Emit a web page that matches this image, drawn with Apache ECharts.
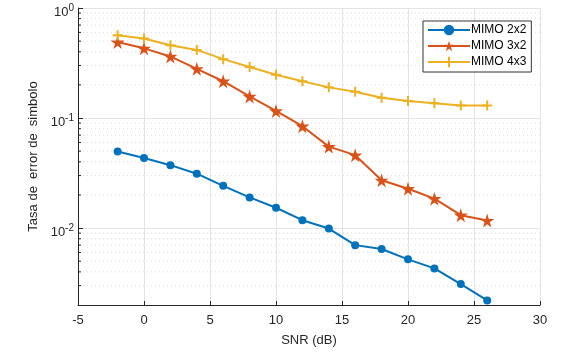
<!DOCTYPE html>
<html>
<head>
<meta charset="UTF-8">
<title>ser</title>
<script src="https://cdn.jsdelivr.net/npm/echarts@6/dist/echarts.min.js"></script>
<style>
  html, body { margin: 0; padding: 0; background: #fff; }
  #chart { width: 567px; height: 352px; }
</style>
</head>
<body>
<div id="chart"></div>
<script>
var snr = [-2, 0, 2, 4, 6, 8, 10, 12, 14, 16, 18, 20, 22, 24, 26];
var mimo22 = [0.0497, 0.0433, 0.0373, 0.0312, 0.0242, 0.019, 0.0153, 0.0118, 0.0099, 0.0070, 0.00645, 0.0052, 0.0043, 0.0031, 0.0022];
var mimo32 = [0.49, 0.43, 0.363, 0.28, 0.216, 0.157, 0.116, 0.0843, 0.055, 0.046, 0.0272, 0.0228, 0.0185, 0.0131, 0.0117];
var mimo43 = [0.566, 0.529, 0.458, 0.416, 0.343, 0.291, 0.247, 0.216, 0.19, 0.173, 0.153, 0.143, 0.136, 0.13, 0.13];
var seriesNames = ['MIMO 2x2', 'MIMO 3x2', 'MIMO 4x3'];
// minor grid lines of the log axis
var minorY = [0.003, 0.004, 0.005, 0.006, 0.007, 0.008, 0.009,
              0.02, 0.03, 0.04, 0.05, 0.06, 0.07, 0.08, 0.09,
              0.2, 0.3, 0.4, 0.5, 0.6, 0.7, 0.8, 0.9];

var colors = ['#0072BD', '#D95319', '#EDB120'];
var starPath = 'path://M50,0 L61,35 L98,35 L68,57 L79,91 L50,70 L21,91 L32,57 L2,35 L39,35 Z';
var plusPath = 'path://M0,4 L10,4 L10,6 L0,6 Z M4,0 L6,0 L6,10 L4,10 Z';

function pairs(ys) {
  return snr.map(function (x, i) { return [x, ys[i]]; });
}

var myChart = echarts.init(document.getElementById('chart'));
var option = {
  animation: false,
  backgroundColor: '#fff',
  textStyle: { fontFamily: 'Liberation Sans, Arial, sans-serif' },
  grid: { left: 78, right: 27, top: 8, bottom: 43 },
  legend: {
    data: seriesNames,
    left: 423,
    top: 21,
    orient: 'vertical',
    backgroundColor: '#fff',
    borderColor: '#333',
    borderWidth: 1,
    borderRadius: 0,
    padding: [3, 5, 4, 4],
    itemGap: 4,
    itemWidth: 42,
    itemHeight: 13,
    textStyle: { fontSize: 12, color: '#000', padding: [0, 0, 0, -4] }
  },
  xAxis: {
    type: 'value',
    min: -5,
    max: 30,
    interval: 5,
    name: 'SNR (dB)',
    nameLocation: 'middle',
    nameGap: 29,
    nameTextStyle: { fontSize: 13, color: '#262626' },
    axisLine: { lineStyle: { color: '#262626', width: 1 } },
    axisTick: { inside: true, length: 4, lineStyle: { color: '#262626' } },
    axisLabel: { fontSize: 13, color: '#262626', margin: 9 },
    splitLine: { show: true, lineStyle: { color: '#e3e3e3', width: 1 } }
  },
  yAxis: {
    type: 'log',
    logBase: 10,
    min: 0.002,
    max: 1,
    name: 'Tasa de  error de  simbolo',
    nameLocation: 'middle',
    nameGap: 37,
    nameTextStyle: { fontSize: 13, color: '#262626' },
    axisLine: { show: true, onZero: false, lineStyle: { color: '#262626', width: 1 } },
    axisTick: { inside: true, length: 5, lineStyle: { color: '#262626' } },
    axisLabel: {
      showMinLabel: false,
      margin: 4,
      padding: [6, 0, 0, 0],
      formatter: function (v) {
        var e = Math.round(Math.log10(v));
        if (Math.abs(Math.log10(v) - e) > 1e-6) return '';
        return '{b|10}{s|' + e + '}';
      },
      rich: {
        b: { fontSize: 13, color: '#262626', verticalAlign: 'bottom', lineHeight: 16 },
        s: { fontSize: 10, color: '#262626', verticalAlign: 'top', lineHeight: 16 }
      }
    },
    splitLine: { show: true, lineStyle: { color: '#e3e3e3', width: 1 } }
  },
  series: [
    {
      type: 'custom',
      silent: true,
      z: 1,
      data: minorY.map(function (v) { return [-5, v]; }),
      renderItem: function (params, api) {
        var v = api.value(1);
        var p0 = api.coord([-5, v]);
        var p1 = api.coord([30, v]);
        return {
          type: 'group',
          children: [
            {
              type: 'line',
              shape: { x1: p0[0] + 1, y1: p0[1], x2: p1[0], y2: p1[1] },
              style: { stroke: '#dcdcdc', lineWidth: 1, lineDash: [1, 3] }
            },
            {
              type: 'line',
              shape: { x1: p0[0], y1: p0[1], x2: p0[0] + 3, y2: p0[1] },
              style: { stroke: '#262626', lineWidth: 1 }
            }
          ]
        };
      }
    },
    {
      name: seriesNames[0],
      type: 'line',
      z: 3,
      data: pairs(mimo22),
      symbol: 'circle',
      symbolSize: 8,
      color: colors[0],
      lineStyle: { width: 2, color: colors[0] },
      itemStyle: { color: colors[0] }
    },
    {
      name: seriesNames[1],
      type: 'line',
      z: 3,
      data: pairs(mimo32),
      symbol: starPath,
      symbolSize: 14,
      color: colors[1],
      lineStyle: { width: 2, color: colors[1] },
      itemStyle: { color: colors[1] }
    },
    {
      name: seriesNames[2],
      type: 'line',
      z: 3,
      data: pairs(mimo43),
      symbol: plusPath,
      symbolSize: 10,
      color: colors[2],
      lineStyle: { width: 2, color: colors[2] },
      itemStyle: { color: colors[2] }
    }
  ]
};
myChart.setOption(option);
</script>
</body>
</html>
